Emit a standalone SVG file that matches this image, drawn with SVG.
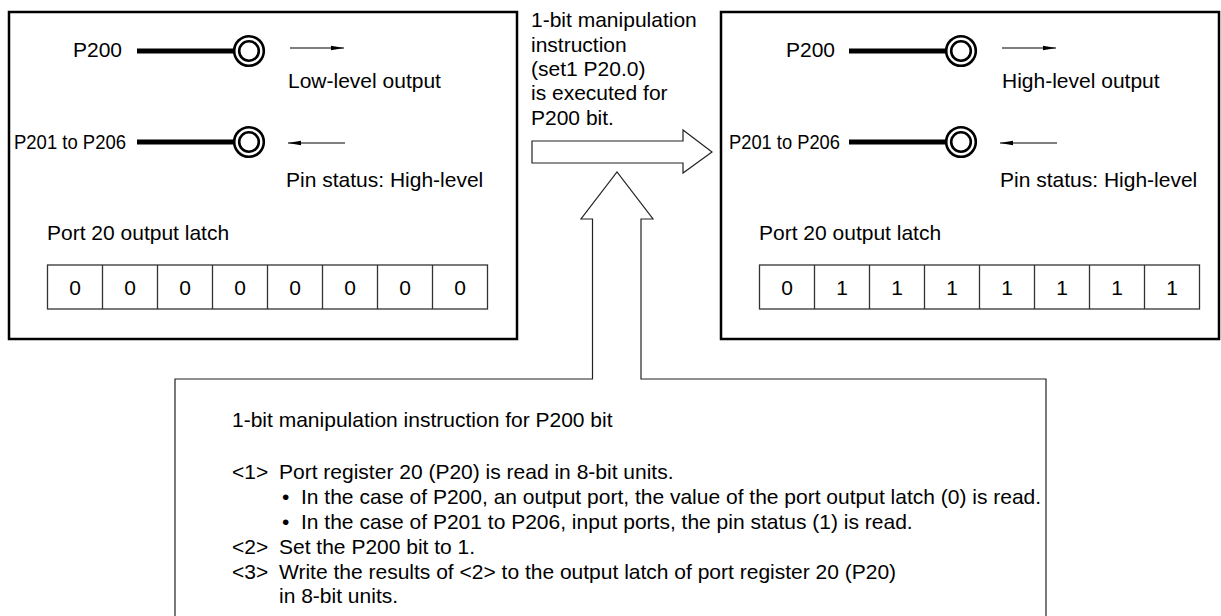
<svg xmlns="http://www.w3.org/2000/svg" width="1221" height="616" viewBox="0 0 1221 616">
<style>
text{font-family:"Liberation Sans",Arial,sans-serif;font-size:21px;fill:#000}
.box{fill:none;stroke:#000;stroke-width:2.5}
.wire{stroke:#000;stroke-width:5}
.ring{fill:none;stroke:#000;stroke-width:2.6}
.thin{stroke:#000;stroke-width:1.1;fill:none}
.cell{fill:none;stroke:#333;stroke-width:1.3}
.outline{fill:#fff;stroke:#222;stroke-width:1.2;stroke-linejoin:miter}
.c{text-anchor:middle}
</style>
<defs>
<marker id="ah" markerWidth="13" markerHeight="6" refX="13" refY="3" orient="auto" markerUnits="userSpaceOnUse">
<path d="M0,0.8 L13,3 L0,5.2 Z" fill="#000"/>
</marker>
</defs>

<g id="before">
<rect class="box" x="9" y="12" width="508" height="327"/>
<text x="73" y="57">P200</text>
<line class="wire" x1="137" y1="51" x2="235" y2="51"/>
<circle class="ring" cx="249" cy="51" r="14.8"/>
<circle class="ring" cx="249" cy="51" r="9.8"/>
<line class="thin" x1="290" y1="48" x2="344" y2="48" marker-end="url(#ah)"/>
<text x="288" y="88">Low-level output</text>
<text x="14" y="149" textLength="112" lengthAdjust="spacingAndGlyphs">P201 to P206</text>
<line class="wire" x1="137" y1="142" x2="235" y2="142"/>
<circle class="ring" cx="249" cy="142" r="14.8"/>
<circle class="ring" cx="249" cy="142" r="9.8"/>
<line class="thin" x1="345" y1="143" x2="288" y2="143" marker-end="url(#ah)"/>
<text x="286" y="187">Pin status: High-level</text>
<text x="47" y="240">Port 20 output latch</text>
<g id="latch-before">
<rect class="cell" x="47.5" y="265" width="440" height="44"/>
<path class="cell" d="M102.5,265V309M157.5,265V309M212.5,265V309M267.5,265V309M322.5,265V309M377.5,265V309M432.5,265V309"/>
<text class="c" x="75" y="295">0</text>
<text class="c" x="130" y="295">0</text>
<text class="c" x="185" y="295">0</text>
<text class="c" x="240" y="295">0</text>
<text class="c" x="295" y="295">0</text>
<text class="c" x="350" y="295">0</text>
<text class="c" x="405" y="295">0</text>
<text class="c" x="460" y="295">0</text>
</g>
</g>

<g id="after">
<rect class="box" x="721" y="12" width="498" height="327"/>
<text x="786" y="57">P200</text>
<line class="wire" x1="849" y1="51" x2="947" y2="51"/>
<circle class="ring" cx="961" cy="51" r="14.8"/>
<circle class="ring" cx="961" cy="51" r="9.8"/>
<line class="thin" x1="1002" y1="48" x2="1056" y2="48" marker-end="url(#ah)"/>
<text x="1002" y="88">High-level output</text>
<text x="729" y="149" textLength="111" lengthAdjust="spacingAndGlyphs">P201 to P206</text>
<line class="wire" x1="849" y1="142" x2="947" y2="142"/>
<circle class="ring" cx="961" cy="142" r="14.8"/>
<circle class="ring" cx="961" cy="142" r="9.8"/>
<line class="thin" x1="1057" y1="143" x2="1000" y2="143" marker-end="url(#ah)"/>
<text x="1000" y="187">Pin status: High-level</text>
<text x="759" y="240">Port 20 output latch</text>
<g id="latch-after">
<rect class="cell" x="759.5" y="265" width="440" height="44"/>
<path class="cell" d="M814.5,265V309M869.5,265V309M924.5,265V309M979.5,265V309M1034.5,265V309M1089.5,265V309M1144.5,265V309"/>
<text class="c" x="787" y="295">0</text>
<text class="c" x="842" y="295">1</text>
<text class="c" x="897" y="295">1</text>
<text class="c" x="952" y="295">1</text>
<text class="c" x="1007" y="295">1</text>
<text class="c" x="1062" y="295">1</text>
<text class="c" x="1117" y="295">1</text>
<text class="c" x="1172" y="295">1</text>
</g>
</g>

<g id="connectors">
<polygon class="outline" points="532,141 683,141 683,130 712,152 683,173 683,163 532,163"/>
<path class="outline" d="M175,620 V379 H592.5 V219 H581 L617,172 L653,219 H641 V379 H1046 V620"/>
</g>

<g id="step-label">
<text x="531" y="27">1-bit manipulation</text>
<text x="531" y="51.5">instruction</text>
<text x="531" y="76">(set1 P20.0)</text>
<text x="531" y="100">is executed for</text>
<text x="531" y="124.5">P200 bit.</text>
</g>

<g id="explanation">
<text x="232" y="427">1-bit manipulation instruction for P200 bit</text>
<text x="232" y="479">&lt;1&gt;</text>
<text x="279" y="479">Port register 20 (P20) is read in 8-bit units.</text>
<text x="282" y="504">•</text>
<text x="301" y="504">In the case of P200, an output port, the value of the port output latch (0) is read.</text>
<text x="282" y="529">•</text>
<text x="301" y="529">In the case of P201 to P206, input ports, the pin status (1) is read.</text>
<text x="232" y="554">&lt;2&gt;</text>
<text x="279" y="554">Set the P200 bit to 1.</text>
<text x="232" y="579">&lt;3&gt;</text>
<text x="279" y="579">Write the results of &lt;2&gt; to the output latch of port register 20 (P20)</text>
<text x="279" y="603">in 8-bit units.</text>
</g>
</svg>
